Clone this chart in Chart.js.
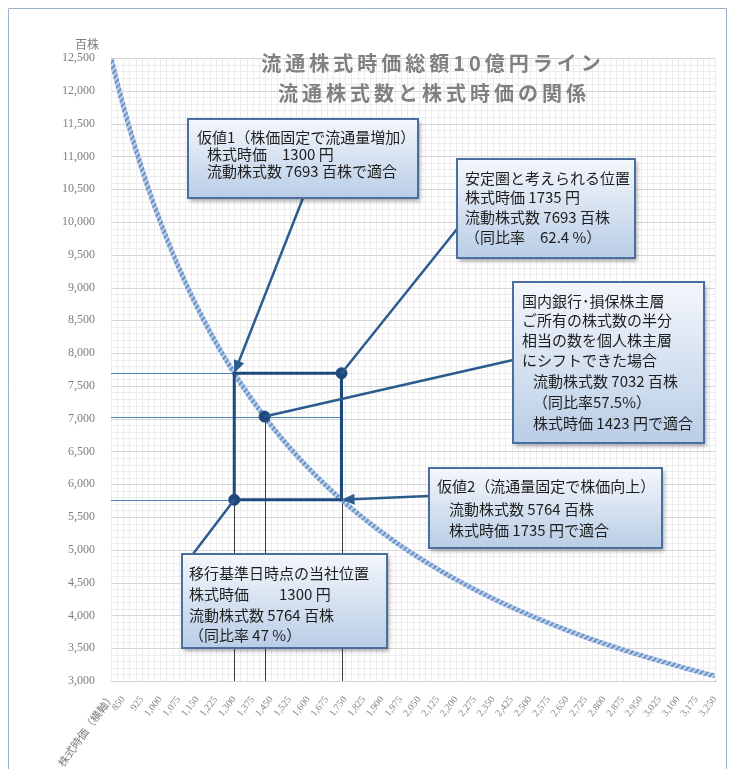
<!DOCTYPE html>
<html>
<head>
<meta charset="utf-8">
<script src="https://cdn.jsdelivr.net/npm/chart.js@4.4.1/dist/chart.umd.min.js"></script>
<style>
  html, body { margin: 0; padding: 0; background: #fff; }
  #wrap { width: 731px; height: 769px; }
</style>
</head>
<body>
<div id="wrap"><canvas id="chart" width="731" height="769"></canvas></div>
<script>
// x axis tick labels (株式時価, 円)
const priceTicks = [850, 925, 1000, 1075, 1150, 1225, 1300, 1375, 1450, 1525, 1600, 1675,
  1750, 1825, 1900, 1975, 2050, 2125, 2200, 2275, 2350, 2425, 2500, 2575, 2650, 2725,
  2800, 2875, 2950, 3025, 3100, 3175, 3250];
// y axis tick labels (百株)
const shareTicks = [3000, 3500, 4000, 4500, 5000, 5500, 6000, 6500, 7000, 7500, 8000,
  8500, 9000, 9500, 10000, 10500, 11000, 11500, 12000, 12500];

// 10億円 line
const curvePrices = [800, 850, 900, 950, 1000, 1050, 1100, 1150, 1200, 1250, 1300, 1350,
  1400, 1450, 1500, 1550, 1600, 1650, 1700, 1750, 1800, 1850, 1900, 1950, 2000, 2050,
  2100, 2150, 2200, 2250, 2300, 2350, 2400, 2450, 2500, 2550, 2600, 2650, 2700, 2750,
  2800, 2850, 2900, 2950, 3000, 3050, 3100, 3150, 3200, 3250];
const curveShares = [12500, 11765, 11111, 10526, 10000, 9524, 9091, 8696, 8333, 8000, 7692, 7407,
  7143, 6897, 6667, 6452, 6250, 6061, 5882, 5714, 5556, 5405, 5263, 5128, 5000, 4878,
  4762, 4651, 4545, 4444, 4348, 4255, 4167, 4082, 4000, 3922, 3846, 3774, 3704, 3636,
  3571, 3509, 3448, 3390, 3333, 3279, 3226, 3175, 3125, 3077];

// the box between the two cases
const rectPrices = [1300, 1300, 1735, 1735, 1300];
const rectShares = [5764, 7693, 7693, 5764, 5764];

// round markers
const markerPrices = [1735, 1423, 1300];
const markerShares = [7693, 7032, 5764];

// guide lines
const hGuideShares = [7693, 7032, 5764];
const hGuideEnds = [1300, 1735, 1300];
const vGuidePrices = [1300, 1423, 1735];
const vGuideTops = [5764, 7032, 5764];

const titleLines = ['流通株式時価総額10億円ライン', '流通株式数と株式時価の関係'];

const note1 = ['仮値1（株価固定で流通量増加）', '株式時価　1300 円', '流動株式数 7693 百株で適合'];
const note2 = ['安定圏と考えられる位置', '株式時価 1735 円', '流動株式数 7693 百株', '（同比率　62.4 %）'];
const note3 = ['国内銀行･損保株主層', 'ご所有の株式数の半分', '相当の数を個人株主層', 'にシフトできた場合',
  '流動株式数 7032 百株', '（同比率57.5%）', '株式時価 1423 円で適合'];
const note4 = ['仮値2（流通量固定で株価向上）', '流動株式数 5764 百株', '株式時価 1735 円で適合'];
const note5 = ['移行基準日時点の当社位置', '株式時価　　1300 円', '流動株式数 5764 百株', '（同比率 47 %）'];

const ctx = document.getElementById('chart').getContext('2d');
const JP = '"Noto Sans CJK JP", "Noto Sans", sans-serif';
const DARK = '#1f497d';

function makeStripe() {
  const c = document.createElement('canvas');
  c.width = 6; c.height = 6;
  const g = c.getContext('2d');
  g.fillStyle = '#b7cde9';
  g.fillRect(0, 0, 6, 6);
  g.strokeStyle = '#658ec4';
  g.lineWidth = 1.8;
  g.beginPath();
  g.moveTo(0, 6); g.lineTo(6, 0);
  g.moveTo(-3, 3); g.lineTo(3, -3);
  g.moveTo(3, 9); g.lineTo(9, 3);
  g.stroke();
  return ctx.createPattern(c, 'repeat');
}

const notes = [
  { lines: note1, box: [188, 119, 230, 79], ys: [137, 154, 171], xs: [197, 207, 207] },
  { lines: note2, box: [457, 159, 178, 99], ys: [178, 197, 217, 237], xs: [465, 465, 465, 465] },
  { lines: note3, box: [513, 282, 191, 161], ys: [301, 320, 340, 360, 381, 402, 423],
    xs: [522, 522, 522, 522, 533, 533, 533] },
  { lines: note4, box: [429, 468, 233, 80], ys: [486, 509, 530], xs: [437, 449, 449] },
  { lines: note5, box: [182, 554, 205, 94], ys: [573, 594, 615, 635], xs: [189, 189, 189, 189] }
];

// connectors: start on the box, end on a data point
const connectors = [
  { from: [303, 198], to: [1300, 7693], arrow: true },
  { from: [457, 229], to: [1735, 7693], arrow: false },
  { from: [513, 360], to: [1423, 7032], arrow: false },
  { from: [429, 496], to: [1735, 5764], arrow: true },
  { from: [193, 554], to: [1300, 5764], arrow: false }
];

const backdrop = {
  id: 'backdrop',
  beforeDatasetsDraw(chart) {
    const { ctx: c, chartArea: a, scales: { x, y } } = chart;
    c.save();
    // fine grid
    c.lineWidth = 1;
    c.strokeStyle = '#ececec';
    for (let v = 800; v <= 3250; v += 25) {
      const px = Math.round(x.getPixelForValue(v)) + 0.5;
      c.beginPath(); c.moveTo(px, a.top); c.lineTo(px, a.bottom); c.stroke();
    }
    for (let v = 3000; v <= 12500; v += 100) {
      const py = Math.round(y.getPixelForValue(v)) + 0.5;
      c.strokeStyle = v % 500 === 0 ? '#d6d6d6' : '#ececec';
      c.beginPath(); c.moveTo(a.left, py); c.lineTo(a.right, py); c.stroke();
    }
    // title
    c.fillStyle = '#808080';
    c.font = 'bold 20px ' + JP;
    c.textAlign = 'center';
    c.textBaseline = 'middle';
    c.letterSpacing = '4px';
    c.fillText(titleLines[0], 433, 63);
    c.fillText(titleLines[1], 434, 93);
    c.letterSpacing = '0px';
    // guide lines
    c.strokeStyle = '#4f81bd';
    hGuideShares.forEach((s, i) => {
      const py = Math.round(y.getPixelForValue(s)) + 0.5;
      c.beginPath(); c.moveTo(a.left, py); c.lineTo(x.getPixelForValue(hGuideEnds[i]), py); c.stroke();
    });
    c.strokeStyle = '#3a3a3a';
    vGuidePrices.forEach((p, i) => {
      const px = Math.round(x.getPixelForValue(p)) + 0.5;
      c.beginPath(); c.moveTo(px, y.getPixelForValue(vGuideTops[i])); c.lineTo(px, a.bottom); c.stroke();
    });
    c.restore();
  },
  afterDraw(chart) {
    const c = chart.ctx;
    c.save();
    // page frame
    c.strokeStyle = '#9db2cf';
    c.lineWidth = 1;
    c.beginPath();
    c.moveTo(8.5, 769); c.lineTo(8.5, 8.5); c.lineTo(726.5, 8.5); c.lineTo(726.5, 769);
    c.stroke();
    // axis captions
    c.fillStyle = '#7f7f7f';
    c.font = '12px ' + JP;
    c.textAlign = 'center';
    c.textBaseline = 'middle';
    c.fillText('百株', 87, 44);
    c.translate(112, 694);
    c.rotate(-54 * Math.PI / 180);
    c.textAlign = 'right';
    c.font = '11px ' + JP;
    c.fillText('株式時価（横軸）', 0, 0);
    c.restore();
  }
};

const callouts = {
  id: 'callouts',
  afterDatasetsDraw(chart) {
    const { ctx: c, scales: { x, y } } = chart;
    c.save();
    c.strokeStyle = '#2c5c8f';
    c.fillStyle = '#2c5c8f';
    c.lineWidth = 2.5;
    connectors.forEach(k => {
      const tx = x.getPixelForValue(k.to[0]);
      const ty = y.getPixelForValue(k.to[1]);
      const [fx, fy] = k.from;
      const ang = Math.atan2(ty - fy, tx - fx);
      const head = k.arrow ? 11 : 0;
      c.beginPath();
      c.moveTo(fx, fy);
      c.lineTo(tx - head * Math.cos(ang), ty - head * Math.sin(ang));
      c.stroke();
      if (k.arrow) {
        c.beginPath();
        c.moveTo(tx, ty);
        c.lineTo(tx - 13 * Math.cos(ang) + 5.5 * Math.sin(ang), ty - 13 * Math.sin(ang) - 5.5 * Math.cos(ang));
        c.lineTo(tx - 13 * Math.cos(ang) - 5.5 * Math.sin(ang), ty - 13 * Math.sin(ang) + 5.5 * Math.cos(ang));
        c.closePath();
        c.fill();
      }
    });
    notes.forEach(n => {
      const [bx, by, bw, bh] = n.box;
      const grad = c.createLinearGradient(0, by, 0, by + bh);
      grad.addColorStop(0, '#f4f7fc');
      grad.addColorStop(1, '#b9cde6');
      c.save();
      c.shadowColor = 'rgba(0,0,0,0.35)';
      c.shadowOffsetX = 2;
      c.shadowOffsetY = 3;
      c.shadowBlur = 4;
      c.fillStyle = grad;
      c.fillRect(bx, by, bw, bh);
      c.restore();
      c.strokeStyle = '#4a6f9e';
      c.lineWidth = 2;
      c.strokeRect(bx, by, bw, bh);
      c.fillStyle = '#1e1e1e';
      c.font = '15px ' + JP;
      c.textAlign = 'left';
      c.textBaseline = 'middle';
      n.lines.forEach((t, i) => c.fillText(t, n.xs[i], n.ys[i]));
    });
    c.restore();
  }
};

new Chart(ctx, {
  type: 'line',
  data: {
    datasets: [
      {
        data: markerPrices.map((p, i) => ({ x: p, y: markerShares[i] })),
        showLine: false,
        pointRadius: 5.5,
        pointBackgroundColor: DARK,
        pointBorderColor: DARK,
        order: 0
      },
      {
        data: rectPrices.map((p, i) => ({ x: p, y: rectShares[i] })),
        borderColor: DARK,
        borderWidth: 3,
        pointRadius: 0,
        tension: 0,
        order: 1
      },
      {
        data: curvePrices.map((p, i) => ({ x: p, y: curveShares[i] })),
        borderColor: makeStripe(),
        borderWidth: 5,
        pointRadius: 0,
        tension: 0.4,
        order: 2
      }
    ]
  },
  options: {
    responsive: false,
    animation: false,
    devicePixelRatio: 1,
    layout: { padding: { top: 58, right: 16, left: 0, bottom: 0 } },
    plugins: { legend: { display: false }, tooltip: { enabled: false } },
    scales: {
      x: {
        type: 'linear',
        min: 800,
        max: 3250,
        afterBuildTicks: s => { s.ticks = priceTicks.map(v => ({ value: v })); },
        afterFit: s => { s.height = 88; },
        grid: { display: false },
        border: { color: '#4f81bd', width: 1 },
        ticks: {
          autoSkip: false,
          minRotation: 52,
          maxRotation: 52,
          padding: 5,
          color: '#8a8a8a',
          font: { family: 'Liberation Serif', size: 10 },
          callback: v => v.toLocaleString('en-US')
        }
      },
      y: {
        min: 3000,
        max: 12500,
        afterBuildTicks: s => { s.ticks = shareTicks.map(v => ({ value: v })); },
        afterFit: s => { s.width = 111; },
        grid: { display: false },
        border: { color: '#7f7f7f', width: 1 },
        ticks: {
          padding: 8,
          color: '#7f7f7f',
          font: { family: 'Liberation Serif', size: 12 },
          callback: v => v.toLocaleString('en-US')
        }
      }
    }
  },
  plugins: [backdrop, callouts]
});
</script>
</body>
</html>
